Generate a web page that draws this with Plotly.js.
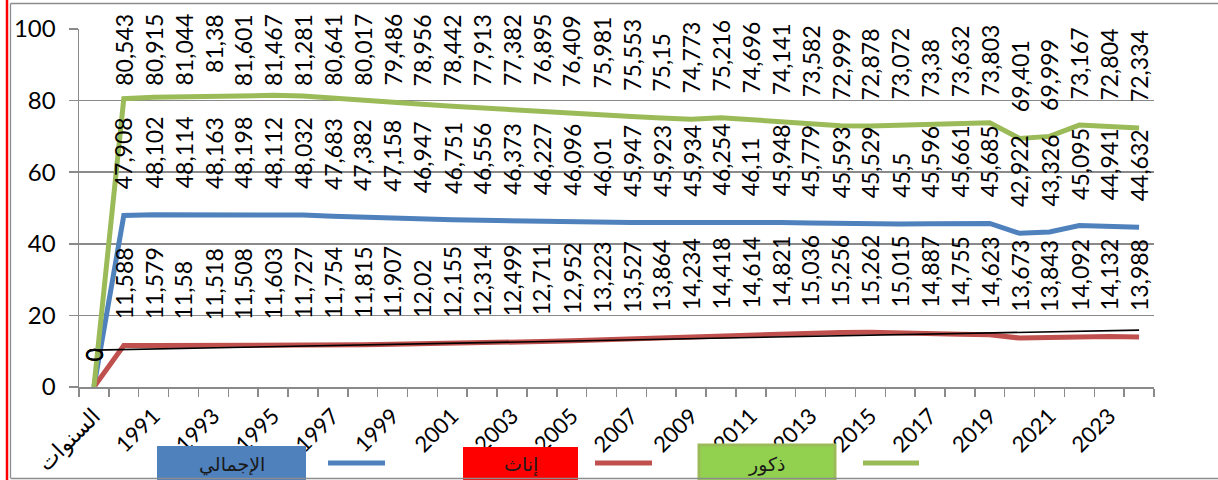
<!DOCTYPE html>
<html>
<head>
<meta charset="utf-8">
<script src="https://cdn.plot.ly/plotly-3.0.1.min.js"></script>
<style>
html,body{margin:0;padding:0;background:#fff;}
#chart{width:1218px;height:480px;}
</style>
</head>
<body>
<div id="chart"></div>
<script>
// ---- data ----
const categories = ['السنوات','1990','1991','1992','1993','1994','1995','1996','1997','1998','1999',
  '2000','2001','2002','2003','2004','2005','2006','2007','2008','2009','2010','2011','2012','2013',
  '2014','2015','2016','2017','2018','2019','2020','2021','2022','2023','2024'];
const totalValues = [0,47.908,48.102,48.114,48.163,48.198,48.112,48.032,47.683,47.382,47.158,46.947,
  46.751,46.556,46.373,46.227,46.096,46.01,45.947,45.923,45.934,46.254,46.11,45.948,45.779,45.593,
  45.529,45.5,45.596,45.661,45.685,42.922,43.326,45.095,44.941,44.632];
const femaleValues = [0,11.588,11.579,11.58,11.518,11.508,11.603,11.727,11.754,11.815,11.907,12.02,
  12.155,12.314,12.499,12.711,12.952,13.223,13.527,13.864,14.234,14.418,14.614,14.821,15.036,15.256,
  15.262,15.015,14.887,14.755,14.623,13.673,13.843,14.092,14.132,13.988];
const maleValues = [0,80.543,80.915,81.044,81.38,81.601,81.467,81.281,80.641,80.017,79.486,78.956,
  78.442,77.913,77.382,76.895,76.409,75.981,75.553,75.15,74.773,75.216,74.696,74.141,73.582,72.999,
  72.878,73.072,73.38,73.632,73.803,69.401,69.999,73.167,72.804,72.334];
const trendX = ['السنوات','2024'];
const trendY = [10.3, 15.9];
const seriesNames = ['الإجمالي','إناث','ذكور'];
const tickLabels = categories.map((c,i)=> i%2===0 ? c : '');

// ---- styles ----
const FONT = 'Lato, "DejaVu Sans", sans-serif';
const colors = {total:'#4f81bd', female:'#c0504d', male:'#9bbb59'};
const ML=79, MR=64, MT=29, MB=93, W=1218, H=480;
const PW = W-ML-MR, PH = H-MT-MB;
const px2xp = px => (px-ML)/PW;
const py2yp = py => (H-MB-py)/PH;
const fmt = v => String(v).replace('.', ',');

const traces = [
  {x:categories, y:totalValues, name:seriesNames[0], mode:'lines', line:{color:colors.total, width:5}},
  {x:categories, y:femaleValues, name:seriesNames[1], mode:'lines', line:{color:colors.female, width:5}},
  {x:categories, y:maleValues, name:seriesNames[2], mode:'lines', line:{color:colors.male, width:5}},
  {x:trendX, y:trendY, mode:'lines', line:{color:'#000', width:1.6}, showlegend:false}
];

const annotations = [];
const GAP = 25, TOPLIM = 13, LBL = 23;
function addLabels(vals){
  vals.forEach((v,i)=>{
    const t = fmt(v);
    const py = H-MB - v*PH/100;
    const len = (t.length-1)*0.58*LBL + 0.23*LBL;
    const base = {text:t, textangle:-90, showarrow:false, font:{family:FONT, size:LBL, color:'#000'},
      x:i, xref:'x', xanchor:'center', borderpad:0};
    if (py - GAP - len < TOPLIM) {
      annotations.push(Object.assign(base, {yref:'paper', y:py2yp(TOPLIM), yanchor:'top'}));
    } else {
      annotations.push(Object.assign(base, {yref:'y', y:v, yanchor:'bottom', yshift:GAP}));
    }
  });
}
addLabels(totalValues);
addLabels(femaleValues);
addLabels(maleValues);

// legend (Excel-like boxes with text + line samples)
const legendBoxes = [
  {x0:157, x1:306, y0:446, fill:'#4f81bd', border:'#4f81bd', text:seriesNames[0], lx0:328, lx1:385, lc:colors.total},
  {x0:463, x1:578, y0:447, fill:'#ff0000', border:'#ff0000', text:seriesNames[1], lx0:595, lx1:652, lc:colors.female},
  {x0:699, x1:835, y0:445, fill:'#92d050', border:'#9bbb59', text:seriesNames[2], lx0:863, lx1:919, lc:colors.male}
];
const shapes = [];
legendBoxes.forEach(b=>{
  shapes.push({type:'rect', xref:'paper', yref:'paper', x0:px2xp(b.x0), x1:px2xp(b.x1), y0:py2yp(b.y0), y1:py2yp(500),
    fillcolor:b.fill, line:{color:b.border, width: b.border===b.fill?0:3}, layer:'above'});
  shapes.push({type:'line', xref:'paper', yref:'paper', x0:px2xp(b.lx0), x1:px2xp(b.lx1), y0:py2yp(463), y1:py2yp(463),
    line:{color:b.lc, width:5}, layer:'above'});
  annotations.push({text:b.text, xref:'paper', yref:'paper', x:px2xp((b.x0+b.x1)/2), y:py2yp(452), xanchor:'center', yanchor:'top',
    showarrow:false, borderpad:0, font:{family:'"DejaVu Sans", sans-serif', size:19, color:'#1a1a1a'}});
});
// chart-area border
shapes.push({type:'line', xref:'paper', yref:'paper', x0:px2xp(7), x1:px2xp(7), y0:py2yp(0), y1:py2yp(480), line:{color:'#ff0000', width:2.5}, layer:'above'});
shapes.push({type:'line', xref:'paper', yref:'paper', x0:px2xp(10.5), x1:px2xp(10.5), y0:py2yp(3.5), y1:py2yp(478), line:{color:'#8c8c8c', width:1.3}, layer:'above'});
shapes.push({type:'line', xref:'paper', yref:'paper', x0:px2xp(10.5), x1:px2xp(1230), y0:py2yp(3.5), y1:py2yp(3.5), line:{color:'#8c8c8c', width:1.3}, layer:'above'});
shapes.push({type:'line', xref:'paper', yref:'paper', x0:px2xp(10.5), x1:px2xp(1230), y0:py2yp(478.5), y1:py2yp(478.5), line:{color:'#8c8c8c', width:1.3}, layer:'above'});

const layout = {
  width:W, height:H,
  margin:{l:ML, r:MR, t:MT, b:MB, pad:0},
  paper_bgcolor:'#fff', plot_bgcolor:'#fff',
  showlegend:false,
  font:{family:FONT, color:'#000'},
  xaxis:{type:'category', range:[-0.5, categories.length-0.5], tickmode:'array', tickvals:categories, ticktext:tickLabels,
    tickson:'boundaries', ticks:'outside', ticklen:8, tickwidth:1.5, tickcolor:'#8a8a8a',
    showline:true, linecolor:'#8a8a8a', linewidth:1.5, showgrid:false, tickangle:-45, ticklabelstandoff:6,
    tickfont:{family:FONT, size:22, color:'#000'}, fixedrange:true},
  yaxis:{range:[0,100], dtick:20, tick0:0, ticks:'outside', ticklen:9, tickwidth:1.5, tickcolor:'#8a8a8a',
    showline:true, linecolor:'#8a8a8a', linewidth:1.5, showgrid:true, gridcolor:'#8a8a8a', gridwidth:1.5,
    zeroline:false, tickfont:{family:FONT, size:24, color:'#000'}, ticklabelstandoff:8, fixedrange:true},
  annotations:annotations,
  shapes:shapes
};
Plotly.newPlot('chart', traces, layout, {displayModeBar:false, staticPlot:true});
</script>
</body>
</html>
